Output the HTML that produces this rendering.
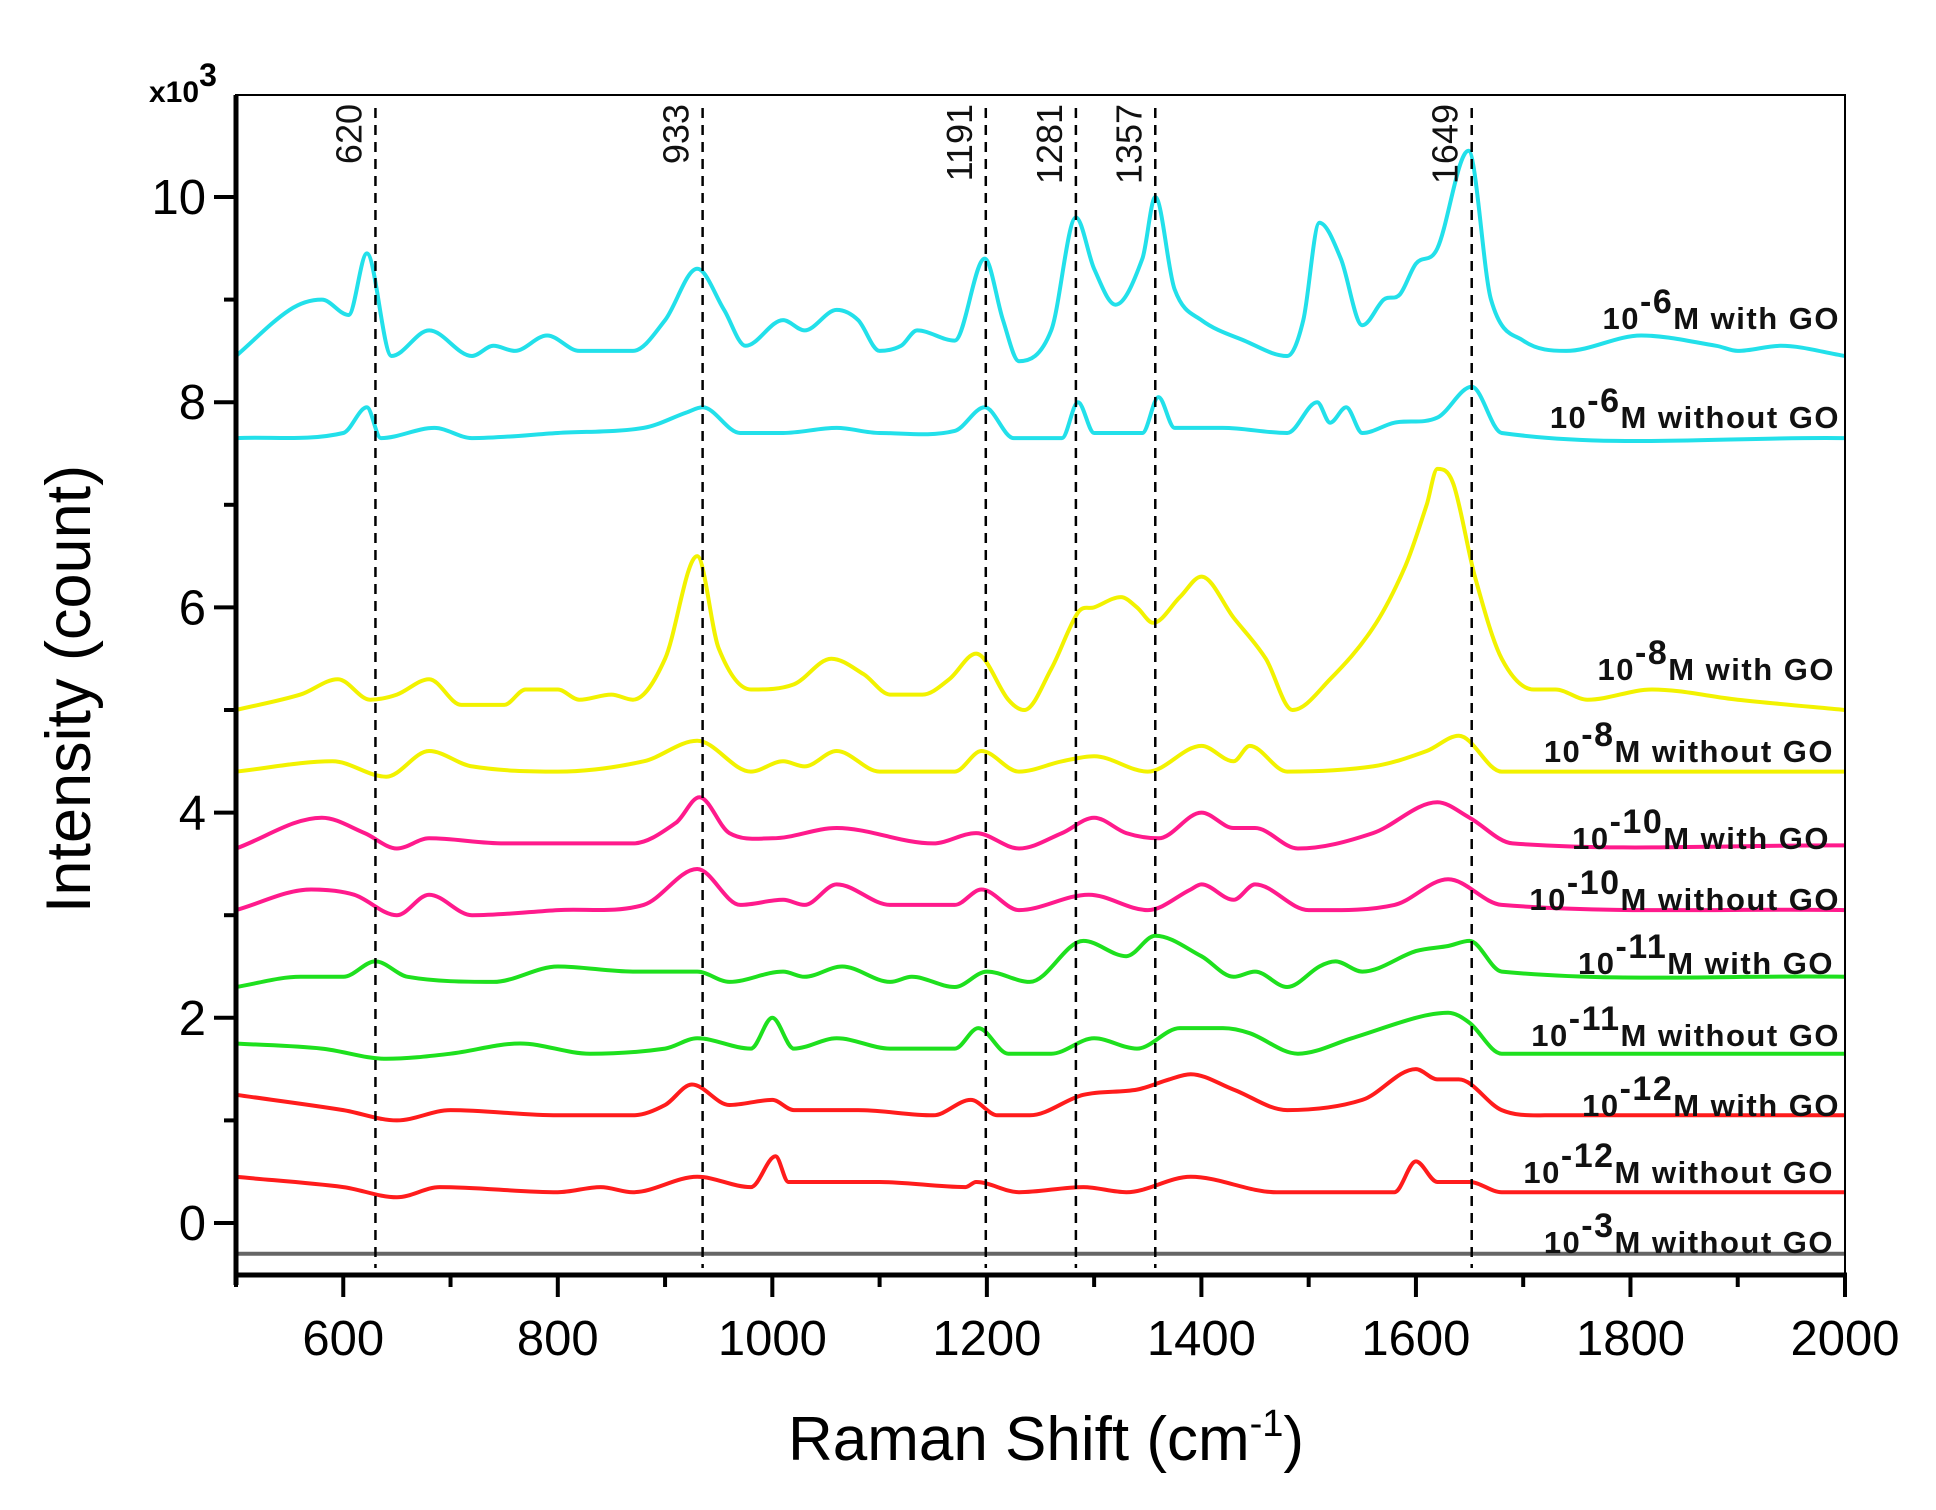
<!DOCTYPE html>
<html><head><meta charset="utf-8"><style>
html,body{margin:0;padding:0;background:#fff;}
svg{display:block;font-family:"Liberation Sans",Arial,sans-serif;}
</style></head><body>
<svg id="chart" width="1936" height="1510" viewBox="0 0 1936 1510">
<g id="plot"></g>
<text x="149" y="102" font-size="30" font-weight="bold">x10<tspan dy="-16" font-size="32">3</tspan></text>
<text x="1046" y="1460" text-anchor="middle" font-size="62">Raman Shift (cm<tspan dy="-24" font-size="38">-1</tspan><tspan dy="24">)</tspan></text>
<text transform="translate(90,689) rotate(-90)" text-anchor="middle" font-size="63">Intensity (count)</text>
</svg>
<script>
const xTicks=[600,800,1000,1200,1400,1600,1800,2000];
const yTicks=[0,2,4,6,8,10];
const peakPositions=[630,935,1199,1283,1357,1652];
const peakLabels=["620","933","1191","1281","1357","1649"];
const seriesNames=["10-6M with GO","10-6M without GO","10-8M with GO","10-8M without GO","10-10M with GO","10-10M without GO","10-11M with GO","10-11M without GO","10-12M with GO","10-12M without GO","10-3M without GO"];
const seriesColors=["#22e0ea","#22e0ea","#f2f200","#f2f200","#ff1a8c","#ff1a8c","#1ee01e","#1ee01e","#ff1c1c","#ff1c1c","#666666"];
const s1x=[500,550,580,605,622,645,680,720,740,760,790,820,870,900,930,955,975,1010,1030,1060,1080,1100,1120,1135,1170,1198,1215,1230,1260,1283,1300,1320,1345,1357,1375,1400,1440,1480,1495,1510,1530,1550,1570,1585,1600,1620,1649,1670,1700,1740,1810,1880,1900,1940,2000];
const s1y=[8.45,8.9,9.0,8.85,9.45,8.45,8.7,8.45,8.55,8.5,8.65,8.5,8.5,8.8,9.3,8.9,8.55,8.8,8.7,8.9,8.8,8.5,8.55,8.7,8.6,9.4,8.8,8.4,8.7,9.8,9.3,8.95,9.4,10.0,9.1,8.8,8.6,8.45,8.8,9.75,9.4,8.75,9.0,9.05,9.35,9.5,10.45,9.0,8.6,8.5,8.65,8.55,8.5,8.55,8.45];
const s2x=[500,600,622,635,685,720,800,880,920,935,970,1010,1060,1100,1170,1198,1225,1270,1285,1300,1345,1360,1375,1420,1480,1508,1520,1535,1550,1580,1620,1652,1680,2000];
const s2y=[7.65,7.7,7.95,7.65,7.75,7.65,7.7,7.75,7.9,7.95,7.7,7.7,7.75,7.7,7.72,7.95,7.65,7.65,8.0,7.7,7.7,8.05,7.75,7.75,7.7,8.0,7.8,7.95,7.7,7.8,7.85,8.15,7.7,7.65];
const s3x=[500,560,595,625,650,680,710,750,770,800,820,850,870,900,930,950,980,1020,1055,1085,1110,1140,1165,1190,1220,1235,1260,1285,1300,1325,1340,1355,1380,1400,1430,1460,1485,1520,1560,1590,1610,1620,1635,1655,1680,1710,1730,1760,1820,1900,2000];
const s3y=[5.0,5.15,5.3,5.1,5.15,5.3,5.05,5.05,5.2,5.2,5.1,5.15,5.1,5.5,6.5,5.6,5.2,5.25,5.5,5.35,5.15,5.15,5.3,5.55,5.1,5.0,5.4,5.95,6.0,6.1,6.0,5.85,6.1,6.3,5.9,5.5,5.0,5.3,5.8,6.4,7.0,7.35,7.2,6.3,5.5,5.2,5.2,5.1,5.2,5.1,5.0];
const s4x=[500,590,640,680,720,800,880,930,980,1010,1030,1060,1100,1170,1195,1230,1270,1300,1350,1400,1430,1445,1480,1560,1610,1640,1680,2000];
const s4y=[4.4,4.5,4.35,4.6,4.45,4.4,4.5,4.7,4.4,4.5,4.45,4.6,4.4,4.4,4.6,4.4,4.5,4.55,4.4,4.65,4.5,4.65,4.4,4.45,4.6,4.75,4.4,4.4];
const s5x=[500,580,620,650,680,750,870,910,932,960,1000,1060,1150,1190,1230,1270,1300,1330,1360,1400,1430,1450,1490,1560,1620,1650,1690,2000];
const s5y=[3.65,3.95,3.8,3.65,3.75,3.7,3.7,3.9,4.15,3.8,3.75,3.85,3.7,3.8,3.65,3.8,3.95,3.8,3.75,4.0,3.85,3.85,3.65,3.8,4.1,3.95,3.7,3.68];
const s6x=[500,570,610,650,680,720,800,880,930,970,1010,1030,1060,1110,1170,1195,1230,1295,1350,1390,1400,1430,1450,1500,1580,1630,1680,2000];
const s6y=[3.05,3.25,3.2,3.0,3.2,3.0,3.05,3.1,3.45,3.1,3.15,3.1,3.3,3.1,3.1,3.25,3.05,3.2,3.05,3.25,3.3,3.15,3.3,3.05,3.1,3.35,3.1,3.05];
const s7x=[500,560,600,630,660,740,800,870,930,960,1010,1030,1065,1110,1130,1170,1200,1240,1290,1330,1357,1400,1430,1450,1480,1510,1525,1550,1600,1630,1650,1680,2000];
const s7y=[2.3,2.4,2.4,2.55,2.4,2.35,2.5,2.45,2.45,2.35,2.45,2.4,2.5,2.35,2.4,2.3,2.45,2.35,2.75,2.6,2.8,2.6,2.4,2.45,2.3,2.5,2.55,2.45,2.65,2.7,2.75,2.45,2.4];
const s8x=[500,580,640,700,765,830,900,930,980,1000,1020,1060,1110,1170,1192,1220,1260,1300,1340,1380,1420,1445,1490,1540,1600,1630,1650,1680,2000];
const s8y=[1.75,1.7,1.6,1.65,1.75,1.65,1.7,1.8,1.7,2.0,1.7,1.8,1.7,1.7,1.9,1.65,1.65,1.8,1.7,1.9,1.9,1.85,1.65,1.8,2.0,2.05,1.95,1.65,1.65];
const s9x=[500,600,650,700,800,870,900,925,960,1000,1020,1080,1150,1185,1210,1240,1290,1340,1370,1390,1430,1480,1550,1600,1620,1640,1680,1720,2000];
const s9y=[1.25,1.1,1.0,1.1,1.05,1.05,1.15,1.35,1.15,1.2,1.1,1.1,1.05,1.2,1.05,1.05,1.25,1.3,1.4,1.45,1.3,1.1,1.2,1.5,1.4,1.4,1.1,1.05,1.05];
const s10x=[500,600,650,690,800,840,870,930,980,1003,1015,1100,1180,1190,1230,1290,1330,1390,1470,1580,1600,1620,1650,1680,2000];
const s10y=[0.45,0.35,0.25,0.35,0.3,0.35,0.3,0.45,0.35,0.65,0.4,0.4,0.35,0.4,0.3,0.35,0.3,0.45,0.3,0.3,0.6,0.4,0.4,0.3,0.3];
const s11x=[500,2000];
const s11y=[-0.3,-0.3];
const allX=[s1x,s2x,s3x,s4x,s5x,s6x,s7x,s8x,s9x,s10x,s11x];
const allY=[s1y,s2y,s3y,s4y,s5y,s6y,s7y,s8y,s9y,s10y,s11y];

const L=236,R=1845,T=95,B=1275;
const xMin=500,xMax=2000;
function X(v){return L+(v-xMin)/(xMax-xMin)*(R-L);}
function Y(v){return 1223-v*102.6;}
const NS="http://www.w3.org/2000/svg";
const g=document.getElementById('plot');
function el(tag,attrs,parent){const e=document.createElementNS(NS,tag);for(const k in attrs)e.setAttribute(k,attrs[k]);(parent||g).appendChild(e);return e;}
function smooth(px,py){
  const n=px.length;const m=[];
  for(let i=0;i<n;i++){
    if(n<3){m.push((py[n-1]-py[0])/(px[n-1]-px[0]));continue;}
    const a=Math.max(i-1,0),b=Math.min(i+1,n-1);
    let s=(py[b]-py[a])/(px[b]-px[a]);
    if(i>0&&i<n-1){const s1=(py[i]-py[i-1])/(px[i]-px[i-1]),s2=(py[i+1]-py[i])/(px[i+1]-px[i]);if(s1*s2<=0)s=0;}
    m.push(s);
  }
  let d="M"+px[0].toFixed(1)+","+py[0].toFixed(1);
  for(let i=0;i<n-1;i++){const dx=px[i+1]-px[i];
    d+=" C"+(px[i]+dx/3).toFixed(1)+","+(py[i]+m[i]*dx/3).toFixed(1)+" "+(px[i+1]-dx/3).toFixed(1)+","+(py[i+1]-m[i+1]*dx/3).toFixed(1)+" "+px[i+1].toFixed(1)+","+py[i+1].toFixed(1);}
  return d;}

for(let s=0;s<allX.length;s++){
  const p=el('path',{d:smooth(allX[s].map(X),allY[s].map(Y)),fill:'none',stroke:seriesColors[s],'stroke-width':4,'stroke-linejoin':'round'});
  
  
}
for(let i=0;i<peakPositions.length;i++){
  const x=X(peakPositions[i]);
  const ln=el('line',{x1:x,x2:x,y1:108,y2:1268,stroke:'#000','stroke-width':2.5,'stroke-dasharray':'10,7'});
  
  
  const t=el('text',{x:0,y:0,transform:'translate('+(x-14)+',104) rotate(-90)','text-anchor':'end','font-size':36,fill:'#111'});
  t.textContent=peakLabels[i];
  
  
}
const fr=el('rect',{x:L,y:T,width:R-L,height:B-T,fill:'none',stroke:'#000','stroke-width':2});


const ax=el('line',{x1:L-2,x2:R+2,y1:B,y2:B,stroke:'#000','stroke-width':5});


const ay=el('line',{x1:L,x2:L,y1:T,y2:B+10,stroke:'#000','stroke-width':5});


for(let v=500;v<=2000;v+=100){
  const major=(v%200===0);
  const tk=el('line',{x1:X(v),x2:X(v),y1:B,y2:B+(major?22:12),stroke:'#000','stroke-width':4});
  
  
}
for(const v of xTicks){
  const t=el('text',{x:X(v),y:B+80,'text-anchor':'middle','font-size':49,fill:'#000'});
  t.textContent=v;
  
  
}
for(let v=0;v<=10;v+=1){
  const major=(v%2===0);
  const tk=el('line',{x1:L-(major?22:12),x2:L,y1:Y(v),y2:Y(v),stroke:'#000','stroke-width':4});
  
  
}
for(const v of yTicks){
  const t=el('text',{x:L-30,y:Y(v)+17,'text-anchor':'end','font-size':49,fill:'#000'});
  t.textContent=v;
  
  
}
const labBase=[329,428,680,762,849,910,974,1046,1116,1183,1253];
const labRight=[1840,1840,1835,1834,1830,1840,1834,1840,1840,1834,1834];
const labExp=["-6","-6","-8","-8","-10","-10","-11","-11","-12","-12","-3"];
const labRest=["M with GO","M without GO","M with GO","M without GO","M with GO","M without GO","M with GO","M without GO","M with GO","M without GO","M without GO"];
for(let i=0;i<labBase.length;i++){
  const t=el('text',{x:labRight[i],y:labBase[i],'text-anchor':'end','font-size':31,'font-weight':'bold','letter-spacing':1.5,fill:'#111'});
  t.innerHTML='10<tspan dy="-16" font-size="34">'+labExp[i]+'</tspan><tspan dy="16">'+labRest[i]+'</tspan>';
  
  
}
</script>
</body></html>
